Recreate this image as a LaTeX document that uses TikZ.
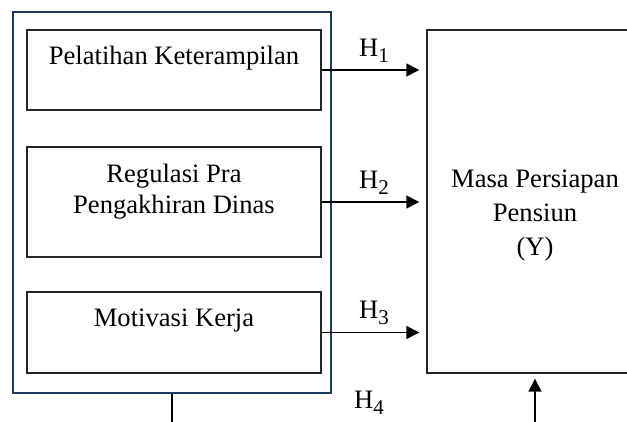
\documentclass[tikz,border=0pt]{standalone}
\usepackage{fontspec}
\setmainfont{Liberation Serif}
\usetikzlibrary{arrows.meta}
\definecolor{navy}{RGB}{31,56,100}

\newcommand{\hsub}[1]{H\raisebox{-3pt}{\fontsize{10.5}{10.5}\selectfont #1}}

\tikzset{
  varbox/.style={draw=black!85, line width=0.7pt, minimum width=147pt, inner sep=0pt},
  hyp/.style={-{Triangle[length=6.5pt,width=6.5pt]}, line width=0.7pt, shorten >=3.5pt},
  vartext/.style={align=center}
}

\begin{document}
\begin{tikzpicture}[x=0.5pt, y=-0.5pt, font=\fontsize{13.3}{15.5}\selectfont]
  \useasboundingbox (0,0) rectangle (627,422);
  \clip (0,0) rectangle (627,422);

  % variabel bebas
  \node[draw=navy, line width=1pt, minimum width=159pt, minimum height=190.5pt] (prediktor) at (172,202.5) {};
  \node[varbox, minimum height=40pt] (pelatihan) at (174,70) {};
  \node[varbox, minimum height=55pt] (regulasi) at (174,202) {};
  \node[varbox, minimum height=40.5pt] (motivasi) at (174,332.5) {};
  \node[vartext] (pelatihantxt) at (174,58) {Pelatihan Keterampilan};
  \node[vartext] (regulasitxt) at (174,192) {Regulasi Pra\\Pengakhiran Dinas};
  \node[vartext] (motivasitxt) at (174,321) {Motivasi Kerja};

  % variabel terikat
  \node[varbox, minimum width=108pt, minimum height=171.5pt] (masa) at (535,201.5) {};
  \node[vartext, font=\fontsize{13.3}{17}\selectfont] (masatxt) at (535,216) {Masa Persiapan\\Pensiun\\(Y)};

  \draw[hyp] (pelatihan.east) -- (pelatihan.east -| masa.west) node[midway, above] (h1) {\hsub{1}};
  \draw[hyp] (regulasi.east) -- (regulasi.east -| masa.west) node[midway, above] (h2) {\hsub{2}};
  \draw[hyp] (motivasi.east) -- (motivasi.east -| masa.west) node[midway, above] (h3) {\hsub{3}};

  \coordinate (bawah) at (350,450);
  \draw[hyp, shorten >=2.5pt] (prediktor.south) |- (bawah) -| (masa.south);
  \node (h4) at (369,403) {\hsub{4}};

\end{tikzpicture}
\end{document}
